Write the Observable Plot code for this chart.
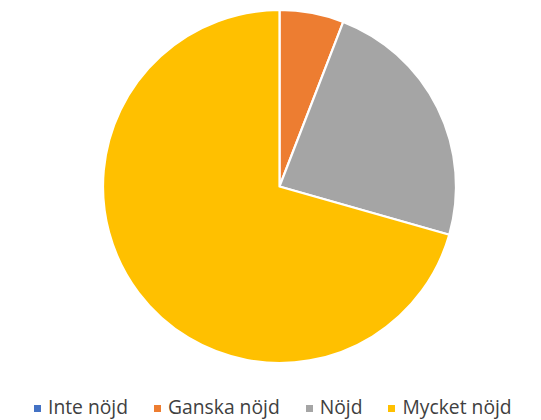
<!DOCTYPE html>
<html>
<head>
<meta charset="utf-8">
<script src="https://cdn.jsdelivr.net/npm/d3@7"></script>
<script src="https://cdn.jsdelivr.net/npm/@observablehq/plot@0.6"></script>
<style>
  html, body { margin: 0; padding: 0; background: #fff; }
  #chart svg { display: block; }
  #legend { position: absolute; top: 397px; left: 34px; display: flex; align-items: center;
            font-family: "Open Sans", sans-serif; font-size: 19.3px; line-height: 20px; color: #404040; }
  #legend .item { display: flex; align-items: center; margin-right: 26px; }
  #legend .sw { width: 7px; height: 7px; margin-right: 7px; margin-top: 3px; }
</style>
</head>
<body>
<div id="chart"></div>
<div id="legend"></div>
<script>
const categories = ["Inte nöjd", "Ganska nöjd", "Nöjd", "Mycket nöjd"];
const values = [0, 1, 4, 12];
const colors = ["#4472C4", "#ED7D31", "#A5A5A5", "#FFC000"];

const data = categories.map((c, i) => ({label: c, value: values[i]}));

const pieMark = (index, scales, vals, dims) => {
  const fw = dims.width - dims.marginLeft - dims.marginRight;
  const fh = dims.height - dims.marginTop - dims.marginBottom;
  const cx = dims.marginLeft + fw / 2;
  const cy = dims.marginTop + fh / 2;
  const r = Math.min(fw, fh) / 2;
  const arcs = d3.pie().sort(null).value(d => d.value)(data);
  const arc = d3.arc().innerRadius(0).outerRadius(r);
  const g = d3.create("svg:g").attr("transform", `translate(${cx},${cy})`);
  g.selectAll("path")
    .data(arcs.filter(a => a.data.value > 0))
    .join("path")
    .attr("d", arc)
    .attr("fill", a => scales.color(a.data.label))
    .attr("stroke", "#fff")
    .attr("stroke-width", 2.2)
    .attr("stroke-linejoin", "round");
  return g.node();
};

const chart = Plot.plot({
  width: 541,
  height: 388,
  marginLeft: 18,
  marginRight: 0,
  marginTop: 10,
  marginBottom: 25,
  x: {axis: null},
  y: {axis: null},
  color: {domain: categories, range: colors},
  marks: [
    Plot.dot(data, {fill: "label", r: 0}),
    pieMark
  ]
});
document.getElementById("chart").appendChild(chart);

const leg = d3.select("#legend");
const items = leg.selectAll(".item").data(categories).join("div").attr("class", "item");
items.append("div").attr("class", "sw").style("background", (d, i) => colors[i]);
items.append("span").text(d => d);
</script>
</body>
</html>
